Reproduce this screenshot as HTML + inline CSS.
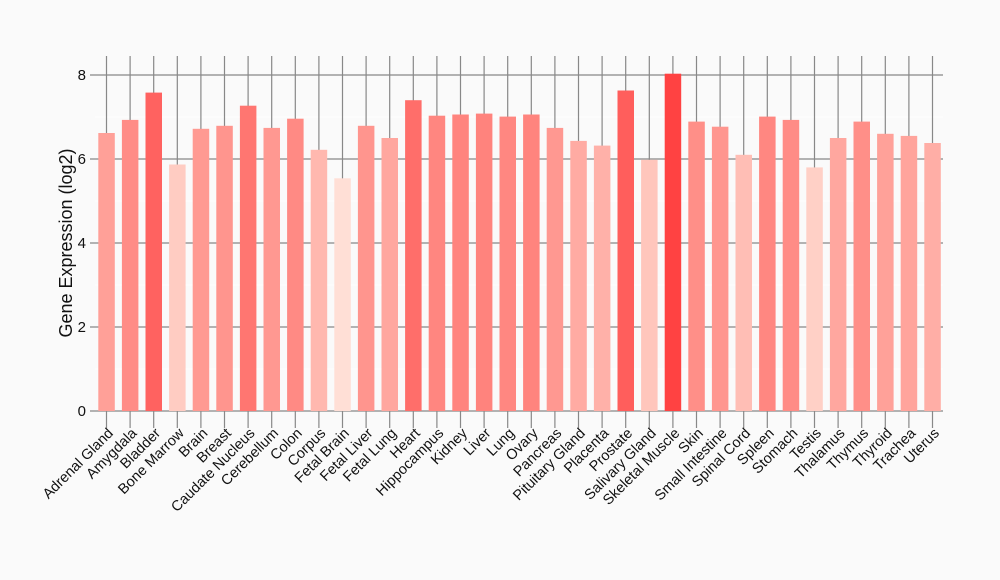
<!DOCTYPE html><html><head><style>body{margin:0;background:#fafafa}svg{display:block}text{font-family:"Liberation Sans",sans-serif;fill:#111}</style></head><body>
<svg width="1000" height="580" viewBox="0 0 1000 580">
<rect width="1000" height="580" fill="#fafafa"/>
<g stroke="#fff" stroke-width="1"><line x1="95" x2="943" y1="117" y2="117"/><line x1="95" x2="943" y1="201" y2="201"/><line x1="95" x2="943" y1="285" y2="285"/><line x1="95" x2="943" y1="369" y2="369"/></g>
<g stroke="#888" stroke-width="1.2">
<line x1="90" x2="943" y1="75" y2="75"/><line x1="90" x2="943" y1="159" y2="159"/><line x1="90" x2="943" y1="243" y2="243"/><line x1="90" x2="943" y1="327" y2="327"/><line x1="90" x2="943" y1="411" y2="411"/>
<path d="M106.5 56V428M130.1 56V428M153.7 56V428M177.3 56V428M200.9 56V428M224.5 56V428M248.1 56V428M271.7 56V428M295.3 56V428M318.9 56V428M342.5 56V428M366.1 56V428M389.7 56V428M413.3 56V428M436.9 56V428M460.5 56V428M484.1 56V428M507.7 56V428M531.3 56V428M554.9 56V428M578.5 56V428M602.1 56V428M625.7 56V428M649.3 56V428M672.9 56V428M696.5 56V428M720.1 56V428M743.7 56V428M767.3 56V428M790.9 56V428M814.5 56V428M838.1 56V428M861.7 56V428M885.3 56V428M908.9 56V428M932.5 56V428" fill="none"/>
</g>
<g>
<rect x="98.3" y="133.0" width="16.5" height="278.0" fill="rgb(255,160,152)"/>
<rect x="121.9" y="119.9" width="16.5" height="291.1" fill="rgb(255,140,134)"/>
<rect x="145.5" y="92.6" width="16.5" height="318.4" fill="rgb(255,98,96)"/>
<rect x="169.1" y="164.5" width="16.5" height="246.5" fill="rgb(255,204,194)"/>
<rect x="192.7" y="128.8" width="16.5" height="282.2" fill="rgb(255,154,146)"/>
<rect x="216.3" y="125.8" width="16.5" height="285.2" fill="rgb(255,149,142)"/>
<rect x="239.9" y="105.7" width="16.5" height="305.3" fill="rgb(255,118,113)"/>
<rect x="263.5" y="127.9" width="16.5" height="283.1" fill="rgb(255,152,145)"/>
<rect x="287.1" y="118.7" width="16.5" height="292.3" fill="rgb(255,138,132)"/>
<rect x="310.7" y="149.8" width="16.5" height="261.2" fill="rgb(255,184,175)"/>
<rect x="334.3" y="178.3" width="16.5" height="232.7" fill="rgb(255,223,214)"/>
<rect x="357.9" y="125.8" width="16.5" height="285.2" fill="rgb(255,149,142)"/>
<rect x="381.5" y="138.0" width="16.5" height="273.0" fill="rgb(255,167,159)"/>
<rect x="405.1" y="100.2" width="16.5" height="310.8" fill="rgb(255,110,106)"/>
<rect x="428.7" y="115.7" width="16.5" height="295.3" fill="rgb(255,134,128)"/>
<rect x="452.3" y="114.5" width="16.5" height="296.5" fill="rgb(255,132,126)"/>
<rect x="475.9" y="113.6" width="16.5" height="297.4" fill="rgb(255,131,125)"/>
<rect x="499.5" y="116.6" width="16.5" height="294.4" fill="rgb(255,135,129)"/>
<rect x="523.1" y="114.5" width="16.5" height="296.5" fill="rgb(255,132,126)"/>
<rect x="546.7" y="127.9" width="16.5" height="283.1" fill="rgb(255,152,145)"/>
<rect x="570.3" y="140.9" width="16.5" height="270.1" fill="rgb(255,171,163)"/>
<rect x="593.9" y="145.6" width="16.5" height="265.4" fill="rgb(255,177,169)"/>
<rect x="617.5" y="90.5" width="16.5" height="320.5" fill="rgb(255,94,92)"/>
<rect x="641.1" y="159.8" width="16.5" height="251.2" fill="rgb(255,198,188)"/>
<rect x="664.7" y="73.7" width="16.5" height="337.3" fill="rgb(255,66,66)"/>
<rect x="688.3" y="121.6" width="16.5" height="289.4" fill="rgb(255,143,136)"/>
<rect x="711.9" y="126.7" width="16.5" height="284.3" fill="rgb(255,150,143)"/>
<rect x="735.5" y="154.8" width="16.5" height="256.2" fill="rgb(255,190,181)"/>
<rect x="759.1" y="116.6" width="16.5" height="294.4" fill="rgb(255,135,129)"/>
<rect x="782.7" y="119.9" width="16.5" height="291.1" fill="rgb(255,140,134)"/>
<rect x="806.3" y="167.4" width="16.5" height="243.6" fill="rgb(255,208,198)"/>
<rect x="829.9" y="138.0" width="16.5" height="273.0" fill="rgb(255,167,159)"/>
<rect x="853.5" y="121.6" width="16.5" height="289.4" fill="rgb(255,143,136)"/>
<rect x="877.1" y="133.8" width="16.5" height="277.2" fill="rgb(255,161,153)"/>
<rect x="900.7" y="135.9" width="16.5" height="275.1" fill="rgb(255,164,156)"/>
<rect x="924.3" y="143.0" width="16.5" height="268.0" fill="rgb(255,174,166)"/>
</g>
<g font-size="15" text-anchor="end">
<text x="86" y="80">8</text><text x="86" y="164">6</text><text x="86" y="248">4</text><text x="86" y="332">2</text><text x="86" y="416">0</text>
</g>
<text transform="translate(72,243) rotate(-90)" text-anchor="middle" font-size="18">Gene Expression (log2)</text>
<g font-size="14.5" text-anchor="end">
<text transform="translate(114,434) rotate(-45)">Adrenal Gland</text>
<text transform="translate(137.6,434) rotate(-45)">Amygdala</text>
<text transform="translate(161.2,434) rotate(-45)">Bladder</text>
<text transform="translate(184.8,434) rotate(-45)">Bone Marrow</text>
<text transform="translate(208.4,434) rotate(-45)">Brain</text>
<text transform="translate(232,434) rotate(-45)">Breast</text>
<text transform="translate(255.6,434) rotate(-45)">Caudate Nucleus</text>
<text transform="translate(279.2,434) rotate(-45)">Cerebellum</text>
<text transform="translate(302.8,434) rotate(-45)">Colon</text>
<text transform="translate(326.4,434) rotate(-45)">Corpus</text>
<text transform="translate(350,434) rotate(-45)">Fetal Brain</text>
<text transform="translate(373.6,434) rotate(-45)">Fetal Liver</text>
<text transform="translate(397.2,434) rotate(-45)">Fetal Lung</text>
<text transform="translate(420.8,434) rotate(-45)">Heart</text>
<text transform="translate(444.4,434) rotate(-45)">Hippocampus</text>
<text transform="translate(468,434) rotate(-45)">Kidney</text>
<text transform="translate(491.6,434) rotate(-45)">Liver</text>
<text transform="translate(515.2,434) rotate(-45)">Lung</text>
<text transform="translate(538.8,434) rotate(-45)">Ovary</text>
<text transform="translate(562.4,434) rotate(-45)">Pancreas</text>
<text transform="translate(586,434) rotate(-45)">Pituitary Gland</text>
<text transform="translate(609.6,434) rotate(-45)">Placenta</text>
<text transform="translate(633.2,434) rotate(-45)">Prostate</text>
<text transform="translate(656.8,434) rotate(-45)">Salivary Gland</text>
<text transform="translate(680.4,434) rotate(-45)">Skeletal Muscle</text>
<text transform="translate(704,434) rotate(-45)">Skin</text>
<text transform="translate(727.6,434) rotate(-45)">Small Intestine</text>
<text transform="translate(751.2,434) rotate(-45)">Spinal Cord</text>
<text transform="translate(774.8,434) rotate(-45)">Spleen</text>
<text transform="translate(798.4,434) rotate(-45)">Stomach</text>
<text transform="translate(822,434) rotate(-45)">Testis</text>
<text transform="translate(845.6,434) rotate(-45)">Thalamus</text>
<text transform="translate(869.2,434) rotate(-45)">Thymus</text>
<text transform="translate(892.8,434) rotate(-45)">Thyroid</text>
<text transform="translate(916.4,434) rotate(-45)">Trachea</text>
<text transform="translate(940,434) rotate(-45)">Uterus</text>
</g>
</svg>
</body></html>
